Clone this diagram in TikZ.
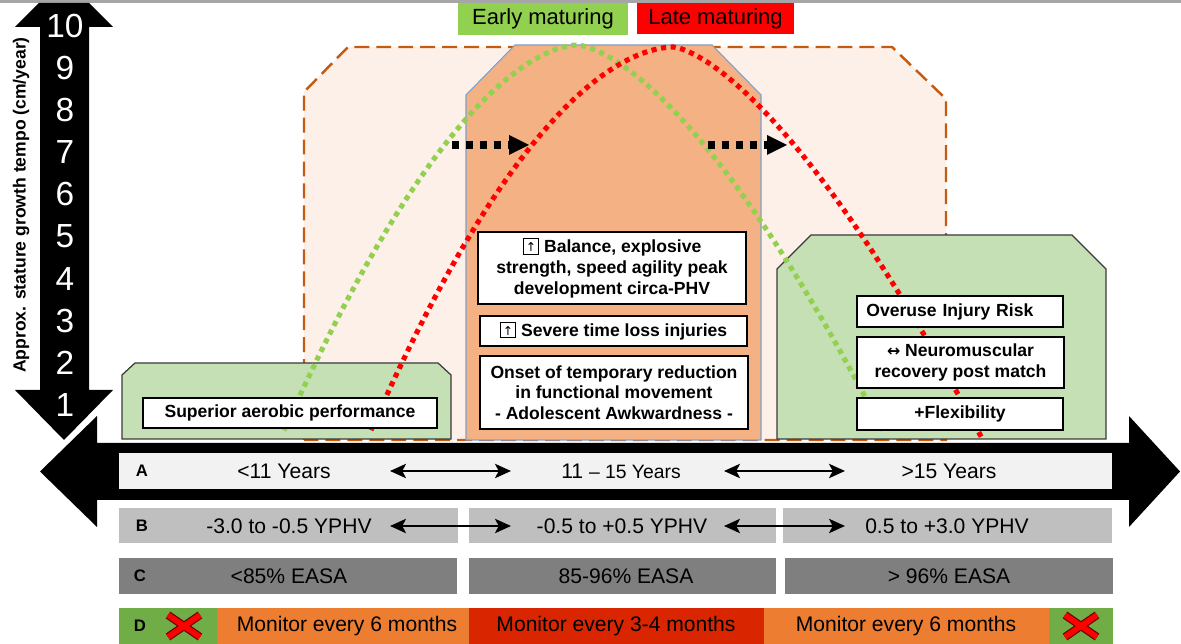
\documentclass[tikz,border=0pt]{standalone}
\usepackage{fontspec}
\setmainfont{Liberation Sans}
\newfontfamily\symf{DejaVu Sans}
\usetikzlibrary{arrows.meta}
\definecolor{dashorange}{HTML}{C55A11}
\definecolor{regionfill}{HTML}{FDF0E9}
\definecolor{centerfill}{HTML}{F4B183}
\definecolor{centeredge}{HTML}{7F9FC8}
\definecolor{boxgreen}{HTML}{C5E0B4}
\definecolor{boxedge}{HTML}{3A3A3A}
\definecolor{curvegreen}{HTML}{92D050}
\definecolor{curvered}{HTML}{FF0000}
\definecolor{rowa}{HTML}{F2F2F2}
\definecolor{rowb}{HTML}{BFBFBF}
\definecolor{rowc}{HTML}{7F7F7F}
\definecolor{dgreen}{HTML}{70AD47}
\definecolor{dorange}{HTML}{ED7D31}
\definecolor{dred}{HTML}{D92600}
\definecolor{topgrey}{HTML}{A6A6A6}
\definecolor{xedge}{HTML}{6B0000}
\newcommand{\upbox}{{\fboxsep=0pt\fboxrule=0.6pt\raisebox{-0.6pt}{\fbox{\makebox[8.2pt][c]{\rule{0pt}{8.2pt}\raisebox{1pt}{\symf\mdseries\fontsize{7}{7}\selectfont ↑}}}}}}
\tikzset{
  regionstyle/.style={fill=regionfill, draw=dashorange, line width=1.4pt, dash pattern=on 8.5pt off 4pt},
  centerstyle/.style={fill=centerfill, draw=centeredge, line width=0.6pt},
  greenstyle/.style={fill=boxgreen, draw=boxedge, line width=0.7pt},
  txtbox/.style={draw=black, line width=1.4pt, fill=white, inner sep=0pt, align=center, font=\bfseries\fontsize{10}{11.8}\selectfont},
  curvestyle/.style={line width=2.9pt, dash pattern=on 2.9pt off 2.6pt},
  dotline/.style={line width=4pt, dash pattern=on 4pt off 4pt},
  numtxt/.style={text=white, inner sep=0pt, font=\fontsize{19}{20}\selectfont},
  rowtxt/.style={inner sep=0pt, font=\fontsize{12}{14}\selectfont},
  rowlab/.style={inner sep=0pt, font=\bfseries\fontsize{9.5}{11}\selectfont},
  legtxt/.style={inner sep=0pt, font=\fontsize{12.5}{14}\selectfont},
  dblarrow/.style={line width=1.6pt, {Stealth[length=9pt,width=8pt,inset=2pt]}-{Stealth[length=9pt,width=8pt,inset=2pt]}},
  xout/.style={draw=xedge, line width=4.6pt},
  xin/.style={draw=red, line width=3.2pt}
}
\begin{document}
\begin{tikzpicture}[x=0.02cm,y=-0.02cm]
\useasboundingbox (0,0) rectangle (1181,644);
\fill[topgrey] (0,0) rectangle (1181,3);

% background shapes
\draw[regionstyle] (304,440) -- (304,92) -- (348,47) -- (892,47) -- (946,99) -- (946,440) -- cycle;
\draw[centerstyle] (466,440) -- (466,95) -- (515,45) -- (712,45) -- (761,95) -- (761,440) -- cycle;
\draw[greenstyle] (122,439) -- (122,375) -- (135,363) -- (438,363) -- (451,375) -- (451,439) -- cycle;
\draw[greenstyle] (777,439) -- (777,269) -- (811,235) -- (1072,235) -- (1106,269) -- (1106,439) -- cycle;

% curves
\draw[curvestyle, curvegreen] plot[domain=284:577, samples=60, smooth] (\x, {45+62*pow((577.01-\x)/100,1.7)})
  -- plot[domain=577:884, samples=60, smooth] (\x, {45+69*pow((\x-576.99)/100,1.54)});
\draw[curvestyle, curvered] plot[domain=371:673, samples=60, smooth] (\x, {47+53*pow((673.01-\x)/100,1.79)})
  -- plot[domain=673:982, samples=60, smooth] (\x, {47+73.7*pow((\x-672.99)/100,1.48)});

% text boxes
\node[txtbox, minimum width=5.88cm, minimum height=0.6cm] (aer) at (290,413) {Superior aerobic performance};
\node[txtbox, minimum width=5.36cm, minimum height=1.44cm] (bal) at (612,268) {\upbox\ Balance, explosive\\strength, speed agility peak\\development circa-PHV};
\node[txtbox, minimum width=5.34cm, minimum height=0.6cm] (sev) at (613.5,331) {\upbox\ Severe time loss injuries};
\node[txtbox, minimum width=5.36cm, minimum height=1.46cm] (ons) at (614,392.5) {Onset of temporary reduction\\in functional movement\\- Adolescent Awkwardness -};
\node[txtbox, minimum width=4.12cm, minimum height=0.62cm, align=left, text width=106.6pt, inner xsep=5.1pt] (ovr) at (960,311.5) {Overuse Injury Risk};
\node[txtbox, minimum width=4.14cm, minimum height=1.02cm] (neu) at (960.5,362.5) {{\symf\fontsize{9}{9}\selectfont ↔} Neuromuscular\\recovery post match};
\node[txtbox, minimum width=4.12cm, minimum height=0.64cm] (flx) at (960,414) {+Flexibility};

% dotted black arrows
\coordinate (d1s) at (452,145); \coordinate (d1b) at (509,145); \coordinate (d1t) at (529,145);
\draw[dotline] (d1s) -- (d1b);
\fill (509,135) -- (d1t) -- (509,155) -- cycle;
\coordinate (d2s) at (708,145); \coordinate (d2b) at (767,145); \coordinate (d2t) at (787,145);
\draw[dotline] (d2s) -- (d2b);
\fill (767,135) -- (d2t) -- (767,155) -- cycle;

% vertical axis arrow
\fill (15,27) -- (39,3) -- (89,3) -- (113,27) -- (89,27) -- (89,390) -- (113,390) -- (64,440) -- (15,390) -- (40,390) -- (40,27) -- cycle;
\foreach \k in {1,...,10} \node[numtxt] (n\k) at (65,{26+(10-\k)*42.1}) {\k};
\node[rotate=90, inner sep=0pt, font=\bfseries\fontsize{10}{12}\selectfont] (ylab) at (21,205) {Approx. stature growth tempo (cm/year)};

% horizontal arrow
\fill (40,471.5) -- (97,416) -- (97,443) -- (1129,443) -- (1129,416) -- (1180,471.5) -- (1129,527) -- (1129,500) -- (97,500) -- (97,527) -- cycle;

% row A
\fill[rowa] (119,453) rectangle (1112,489);
\node[rowlab] (la) at (142,471) {A};
\node[rowtxt] (a1) at (284,471) {<11 Years};
\node[rowtxt] (a2) at (621,471) {11 {\fontsize{11}{13}\selectfont – 15 Years}};
\node[rowtxt] (a3) at (949,471) {>15 Years};
\coordinate (aa1) at (390,471); \coordinate (ab1) at (511,471);
\coordinate (aa2) at (724,471); \coordinate (ab2) at (845,471);
\draw[dblarrow] (aa1) -- (ab1);
\draw[dblarrow] (aa2) -- (ab2);

% row B
\fill[rowb] (119,508) rectangle (458,543);
\fill[rowb] (469,508) rectangle (776,543);
\fill[rowb] (783,508) rectangle (1112,543);
\node[rowlab] (lb) at (142,526) {B};
\node[rowtxt] (b1) at (289,526) {-3.0 to -0.5 YPHV};
\node[rowtxt] (b2) at (622,526) {-0.5 to +0.5 YPHV};
\node[rowtxt] (b3) at (947,526) {0.5 to +3.0 YPHV};
\coordinate (ba1) at (390,526); \coordinate (bb1) at (511,526);
\coordinate (ba2) at (724,526); \coordinate (bb2) at (845,526);
\draw[dblarrow] (ba1) -- (bb1);
\draw[dblarrow] (ba2) -- (bb2);

% row C
\fill[rowc] (119,558) rectangle (457,594);
\fill[rowc] (469,558) rectangle (776,594);
\fill[rowc] (785,558) rectangle (1113,594);
\node[rowlab] (lc) at (140,576) {C};
\node[rowtxt] (c1) at (289,576) {<85\% EASA};
\node[rowtxt] (c2) at (626,576) {85-96\% EASA};
\node[rowtxt] (c3) at (949,576) {> 96\% EASA};

% row D
\fill[dgreen] (119,608) rectangle (217,644);
\fill[dorange] (217,608) rectangle (469,644);
\fill[dred] (469,608) rectangle (764,644);
\fill[dorange] (764,608) rectangle (1049,644);
\fill[dgreen] (1049,608) rectangle (1113,644);
\node[rowlab] (ld) at (140,626) {D};
\node[rowtxt] (d1) at (347,626) {Monitor every 6 months};
\node[rowtxt] (d2) at (616,626) {Monitor every 3-4 months};
\node[rowtxt] (d3) at (906,626) {Monitor every 6 months};
\begin{scope}[shift={(184,626)}]
  \draw[xout] (-16,-11) -- (16,11) (-16,11) -- (16,-11);
  \draw[xin] (-16,-11) -- (16,11) (-16,11) -- (16,-11);
\end{scope}
\begin{scope}[shift={(1081,626)}]
  \draw[xout] (-16,-11) -- (16,11) (-16,11) -- (16,-11);
  \draw[xin] (-16,-11) -- (16,11) (-16,11) -- (16,-11);
\end{scope}

% legend
\fill[curvegreen] (458,3) rectangle (628,35);
\fill[curvered] (637,3) rectangle (794,34);
\node[legtxt] (le) at (543,19) {Early maturing};
\node[legtxt] (ll) at (715.5,19) {Late maturing};
\end{tikzpicture}
\end{document}
